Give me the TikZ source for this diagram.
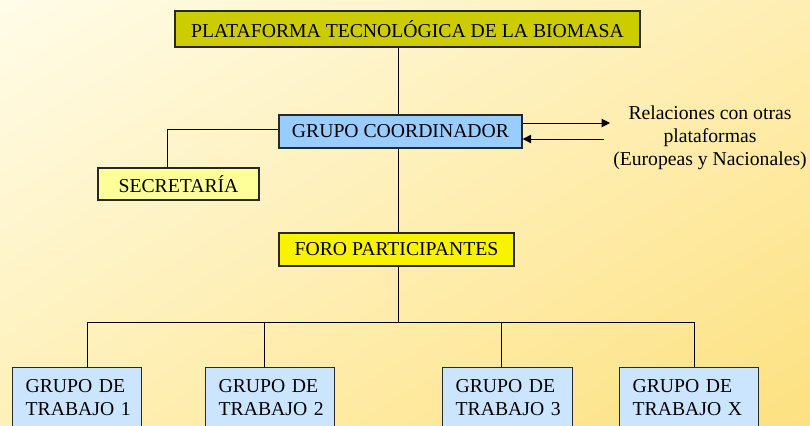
\documentclass[tikz,border=0pt]{standalone}
\usepackage{fontspec}
\setmainfont{Liberation Serif}
\usetikzlibrary{arrows.meta,shadings}
\definecolor{bgtl}{RGB}{255,252,232}
\definecolor{bgtr}{RGB}{254,238,178}
\definecolor{bgbl}{RGB}{254,240,184}
\definecolor{bgbr}{RGB}{253,225,128}
\definecolor{boxline}{RGB}{40,40,40}
\definecolor{titleolive}{RGB}{204,204,0}
\definecolor{coordblue}{RGB}{153,204,255}
\definecolor{secyellow}{RGB}{255,255,153}
\definecolor{foroyellow}{RGB}{250,243,0}
\definecolor{workblue}{RGB}{204,229,255}
\begin{document}
\begin{tikzpicture}[x=0.025cm,y=-0.025cm,
    box/.style={draw=boxline,line width=0.9pt,inner sep=0pt,font=\fontsize{14}{16}\selectfont},
    grupo/.style={box,fill=workblue,anchor=north west,align=left,inner xsep=0.325cm,inner ysep=0.3cm,text width=2.575cm,text depth=1.6cm},
    link/.style={line width=0.7pt},
    relarrow/.style={link,-{Triangle[length=6pt,width=6pt]}}]
    %\draw[lightgray] (0, 0) grid[step=50] (810, 426);
    \useasboundingbox (0,0) rectangle (810,426);
    \shade[upper left=bgtl,upper right=bgtr,lower left=bgbl,lower right=bgbr] (0,0) rectangle (810,426);

    \node[box,fill=titleolive,minimum width=11.625cm,minimum height=0.9cm] (plataforma) at (407.5,29) {PLATAFORMA TECNOLÓGICA DE LA BIOMASA};
    \node[box,fill=coordblue,minimum width=6.075cm,minimum height=0.825cm] (coordinador) at (400.5,131.5) {GRUPO COORDINADOR};
    \node[box,fill=secyellow,minimum width=4.025cm,minimum height=0.8cm] (secretaria) at (178.5,184) {SECRETARÍA};
    \node[box,fill=foroyellow,minimum width=5.875cm,minimum height=0.825cm] (foro) at (396.5,249.5) {FORO PARTICIPANTES};
    \node[align=center,font=\fontsize{14}{16.5}\selectfont] (relaciones) at (710,138) {Relaciones con otras\\plataformas\\(Europeas y Nacionales)};

    \node[grupo] (trabajo1) at (12,367) {GRUPO~DE\\TRABAJO~1};
    \node[grupo] (trabajo2) at (205,367) {GRUPO~DE\\TRABAJO~2};
    \node[grupo,text width=2.6cm] (trabajo3) at (442,367) {GRUPO~DE\\TRABAJO~3};
    \node[grupo,text width=2.825cm] (trabajoX) at (619,367) {GRUPO~DE\\TRABAJO~X};

    \coordinate (tronco) at (398,322);
    \coordinate (codo) at (167,129);
    \coordinate (relida) at (610,123);
    \coordinate (relvuelta) at (604,139);
    \coordinate (rama1) at (87,322);
    \coordinate (rama2) at (264,322);
    \coordinate (rama3) at (501,322);
    \coordinate (ramaX) at (694,322);

    \draw[link] (plataforma.south -| tronco) -- (coordinador.north -| tronco);
    \draw[link] (coordinador.south -| tronco) -- (foro.north -| tronco);
    \draw[link] (foro.south -| tronco) -- (tronco);
    \draw[link] (coordinador.west |- codo) -- (codo) -- (codo |- secretaria.north);
    \draw[relarrow] (coordinador.east |- relida) -- (relida);
    \draw[relarrow] (relvuelta) -- (coordinador.east |- relvuelta);
    \draw[link] (rama1) -- (ramaX);
    \foreach \n in {1,2,3,X}
        \draw[link] (rama\n) -- (rama\n |- trabajo\n.north);
\end{tikzpicture}
\end{document}
